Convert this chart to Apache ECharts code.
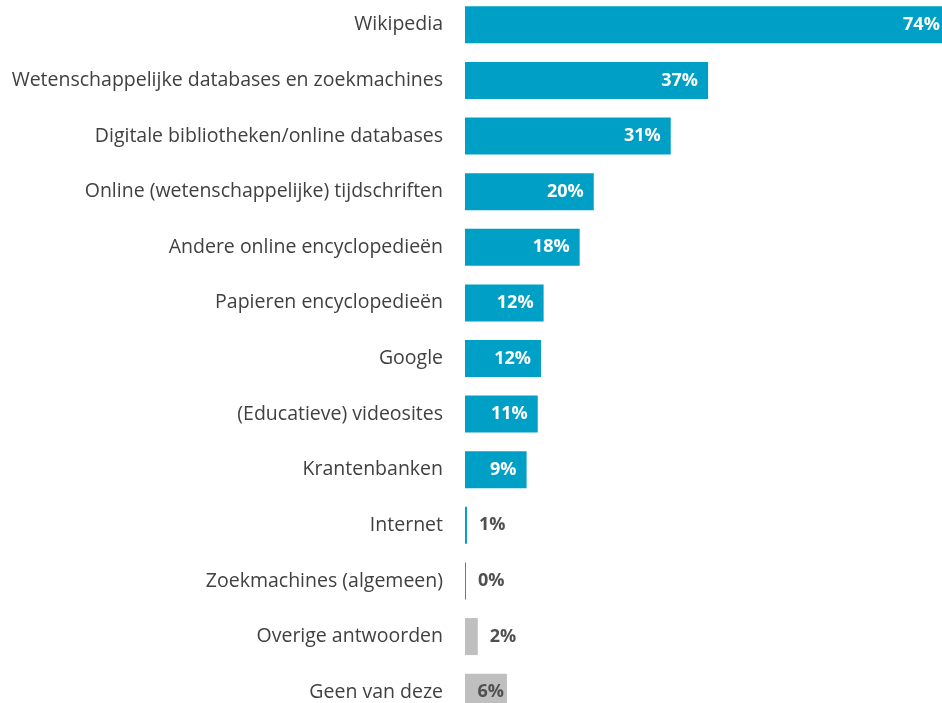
<!DOCTYPE html>
<html lang="nl">

<head>
    <meta charset="UTF-8">
    <title>Bronnen</title>
    <style>
        * {
            margin: 0;
            padding: 0;
        }
    </style>
    <script src="https://cdn.jsdelivr.net/npm/echarts@6/dist/echarts.min.js"></script>
</head>

<body>
    <div id="chart" style="width: 942px;height: 703px;"></div>
    <script>
        // categorieen van boven naar beneden
        var categories = ['Wikipedia', 'Wetenschappelijke databases en zoekmachines', 'Digitale bibliotheken/online databases',
            'Online (wetenschappelijke) tijdschriften', 'Andere online encyclopedieën', 'Papieren encyclopedieën', 'Google',
            '(Educatieve) videosites', 'Krantenbanken', 'Internet', 'Zoekmachines (algemeen)', 'Overige antwoorden', 'Geen van deze'
        ]
        var values = [74, 37.1, 31.4, 19.65, 17.5, 12.0, 11.6, 11.1, 9.4, 0.3, 0.15, 1.95, 6.4]
        // labels zoals in de figuur
        var labels = ['74%', '37%', '31%', '20%', '18%', '12%', '12%', '11%', '9%', '1%', '0%', '2%', '6%']
        var greyCats = ['Overige antwoorden', 'Geen van deze']

        var data = values.map((v, i) => {
            var grey = greyCats.indexOf(categories[i]) >= 0
            var outside = v < 4
            return {
                value: v,
                itemStyle: {
                    color: grey ? '#bfbfbf' : '#00a0c6'
                },
                label: {
                    show: true,
                    formatter: labels[i],
                    position: outside ? 'right' : 'insideRight',
                    distance: outside ? 12 : (grey ? 3 : 10),
                    color: (outside || grey) ? '#505050' : '#ffffff'
                }
            }
        })

        var chart = echarts.init(document.getElementById('chart'))
        var option = {
            animation: false,
            grid: {
                left: 465,
                right: 0,
                top: -3,
                height: 723,
                containLabel: false,
                outerBoundsMode: 'none'
            },
            xAxis: {
                type: 'value',
                min: 0,
                max: 72.8,
                show: false
            },
            yAxis: {
                type: 'category',
                inverse: true,
                data: categories,
                axisLine: { show: false },
                axisTick: { show: false },
                axisLabel: {
                    margin: 22,
                    fontFamily: 'Open Sans',
                    fontSize: 19.5,
                    color: '#404040'
                }
            },
            series: [{
                type: 'bar',
                barWidth: 37,
                clip: false,
                data: data,
                label: {
                    fontFamily: 'Open Sans',
                    fontWeight: 'bold',
                    fontSize: 18
                }
            }]
        }
        chart.setOption(option)
    </script>
</body>

</html>
